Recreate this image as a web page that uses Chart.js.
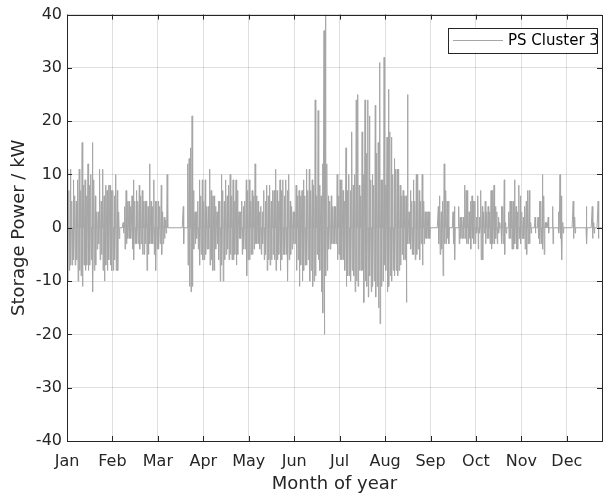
<!DOCTYPE html>
<html>
<head>
<meta charset="utf-8">
<script src="https://cdn.jsdelivr.net/npm/chart.js@4.4.1/dist/chart.umd.min.js"></script>
<style>
  html, body { margin: 0; padding: 0; background: #fff; }
  #wrap { width: 603px; height: 498px; }
</style>
</head>
<body>
<div id="wrap"><canvas id="storageChart" width="603" height="498"></canvas></div>
<script>
const monthLabels = ["Jan", "Feb", "Mar", "Apr", "May", "Jun", "Jul", "Aug", "Sep", "Oct", "Nov", "Dec"];
const monthTickDays = [0, 31, 62, 93, 124, 155, 186, 217, 248, 279, 310, 341];
const yTickValues = [-40, -30, -20, -10, 0, 10, 20, 30, 40];
const seriesLabel = "PS Cluster 3";

// daily peak charge / discharge (kW), one value per day
const dayHigh = [
  11, 7, 11, 5, 9, 6, 5, 9, 11, 7,
  16, 8, 9, 6, 12, 8, 10, 16, 9, 6,
  3, 3, 11, 5, 11, 6, 8, 7, 8, 8,
  7, 7, 6, 10, 7, 3, 0, 0, 1, 4,
  7, 5, 5, 4, 6, 9, 5, 7, 5, 8,
  6, 7, 5, 5, 5, 4, 12, 5, 4, 9,
  5, 5, 5, 4, 8, 3, 2, 1.5, 10, 0,
  0, 0, 0, 0, 0, 0, 0, 0, 0, 4,
  0, 0, 12, 13, 15, 21, 7, 3, 3, 5,
  9, 6, 9, 5, 9, 4, 4, 11, 7, 6,
  6, 4, 3, 5, 5, 10, 7, 5, 9, 6,
  8, 10, 6, 9, 5, 9, 7, 3, 3, 5,
  4, 5, 9, 7, 9, 5, 7, 6, 12, 6,
  5, 3, 4, 3, 7, 5, 8, 6, 8, 5,
  7, 7, 11, 7, 5, 9, 7, 9, 6, 9,
  7, 10, 5, 4, 3, 3, 8, 6, 7, 6,
  7, 9, 6, 11, 7, 11, 7, 9, 8, 24,
  6, 22, 8, 6, 12, 37, 40, 12, 6, 5,
  6, 4, 4, 4, 10, 6, 9, 9, 7, 5,
  15, 7, 10, 7, 18, 8, 10, 24, 25, 8,
  6, 18, 10, 24, 14, 24, 21, 9, 10, 8,
  23, 14, 16, 31, 9, 9, 32, 8, 17, 26,
  18, 17, 10, 13, 11, 11, 11, 8, 6, 7,
  6, 6, 25, 3, 7, 5, 9, 5, 10, 10,
  7, 5, 10, 5, 3, 3, 3, 3, 0, 0,
  0, 0, 0, 4, 6, 3, 5, 12, 7, 5,
  5, 0, 0, 3, 4, 0, 0, 4, 2, 2,
  2, 8, 7, 7, 3, 5, 6, 5, 5, 2,
  6, 2, 7, 4, 3, 5, 3, 4, 3, 7,
  7, 8, 4, 3, 2, 1, 4, 4, 9, 1,
  0, 3, 5, 5, 5, 9, 4, 3, 8, 6,
  3, 2, 4, 5, 7, 7, 1, 0, 0, 2,
  0, 2, 5, 5, 10, 6, 1, 1, 2, 0,
  0, 4, 0, 0, 0, 3, 10, 6, 1, 0,
  0, 0, 0, 0, 0, 5, 2, 0, 0, 0,
  0, 0, 0, 0, 4, 0, 0, 0, 4, 1,
  0, 0, 5, 0, 0
];
const dayLow = [
  -10, -8, -7, -7, -6, -7, -6, -10, -8, -9,
  -11, -7, -8, -7, -8, -7, -6, -12, -8, -7,
  -4, -3, -6, -5, -8, -10, -7, -8, -6, -7,
  -8, -8, -6, -8, -8, -2, 0, 0, -1, -4,
  -3, -2, -2, -2, -4, -6, -3, -3, -3, -4,
  -3, -5, -5, -3, -8, -5, -3, -3, -3, -5,
  -8, -4, -4, -3, -5, -3, -2, -1, 0, 0,
  0, 0, 0, 0, 0, 0, 0, 0, 0, -3,
  0, 0, -7, -11, -12, -11, -4, -3, -2, -4,
  -7, -5, -6, -6, -5, -4, -4, -7, -6, -8,
  -8, -4, -3, -6, -10, -7, -10, -6, -5, -4,
  -6, -5, -6, -6, -5, -7, -5, -2, -2, -5,
  -4, -4, -9, -6, -6, -5, -5, -4, -3, -3,
  -3, -4, -5, -3, -6, -5, -8, -6, -7, -6,
  -5, -6, -8, -6, -5, -8, -6, -5, -5, -5,
  -10, -6, -5, -4, -3, -3, -8, -6, -11, -7,
  -10, -8, -7, -7, -6, -10, -8, -11, -10, -9,
  -5, -6, -8, -12, -16, -20, -9, -8, -4, -4,
  -3, -3, -3, -3, -6, -5, -6, -6, -6, -8,
  -11, -9, -9, -10, -8, -9, -12, -10, -11, -8,
  -8, -8, -14, -10, -11, -13, -9, -12, -11, -10,
  -13, -11, -15, -18, -11, -10, -7, -8, -12, -11,
  -9, -10, -8, -9, -8, -9, -8, -7, -5, -6,
  -6, -14, -3, -3, -4, -5, -5, -6, -5, -4,
  -6, -3, -7, -3, -2, -2, -2, -2, 0, 0,
  0, 0, 0, -3, -5, -4, -9, -3, -3, -2,
  -3, 0, 0, -3, -6, 0, 0, -3, -2, -2,
  -2, -2, -3, -3, -2, -4, -2, -3, -3, -1,
  -4, -1, -6, -6, -1, -3, -2, -2, -3, -4,
  -3, -3, -2, -3, -1, 0, -3, -3, -5, -1,
  0, -2, -2, -4, -4, -3, -4, -4, -2, -3,
  -2, -2, -4, -5, -3, -3, -1, 0, 0, -1,
  0, -2, -3, -3, -4, -5, 0, 0, -1, 0,
  0, -3, 0, 0, 0, -1, -2, -6, -1, 0,
  0, 0, 0, 0, 0, -2, -1, 0, 0, 0,
  0, 0, 0, 0, -3, 0, 0, 0, -2, -1,
  0, 0, -2, 0, 0
];

const axisColor = "#262626";
const gridColor = "rgba(38,38,38,0.15)";
const lineColor = "#a6a6a6";
const fontFamily = "'DejaVu Sans', sans-serif";

// each day: idle, up to its peak, down to its low, idle again
const points = [];
dayHigh.forEach((h, i) => {
  points.push({ x: i + 0.1, y: 0 });
  points.push({ x: i + 0.35, y: h });
  points.push({ x: i + 0.6, y: dayLow[i] });
  points.push({ x: i + 0.85, y: 0 });
});

// box round the plot with inward ticks on all four sides, like matlab
const boxPlugin = {
  id: "boxTicks",
  afterDatasetsDraw(chart) {
    const { ctx, chartArea: a, scales } = chart;
    const len = 5;
    ctx.save();
    ctx.strokeStyle = axisColor;
    ctx.lineWidth = 1;
    ctx.beginPath();
    monthTickDays.forEach(v => {
      const x = Math.round(scales.x.getPixelForValue(v)) + 0.5;
      ctx.moveTo(x, a.bottom); ctx.lineTo(x, a.bottom - len);
      ctx.moveTo(x, a.top); ctx.lineTo(x, a.top + len);
    });
    yTickValues.forEach(v => {
      const y = Math.round(scales.y.getPixelForValue(v)) + 0.5;
      ctx.moveTo(a.left, y); ctx.lineTo(a.left + len, y);
      ctx.moveTo(a.right, y); ctx.lineTo(a.right - len, y);
    });
    ctx.stroke();
    ctx.strokeRect(Math.round(a.left) + 0.5, Math.round(a.top) + 0.5,
      Math.round(a.right - a.left), Math.round(a.bottom - a.top));
    ctx.restore();
  },
  afterDraw(chart) {
    const { ctx, chartArea: a } = chart;
    const bx = a.right - 154, by = a.top + 13, bw = 149, bh = 25;
    ctx.save();
    ctx.fillStyle = "#fff";
    ctx.fillRect(bx, by, bw, bh);
    ctx.strokeStyle = axisColor;
    ctx.lineWidth = 1;
    ctx.strokeRect(Math.round(bx) + 0.5, Math.round(by) + 0.5, bw, bh);
    const my = Math.round(by + bh / 2) + 0.5;
    ctx.strokeStyle = lineColor;
    ctx.beginPath();
    ctx.moveTo(bx + 5, my);
    ctx.lineTo(bx + 55, my);
    ctx.stroke();
    ctx.fillStyle = "#000";
    ctx.font = "15px " + fontFamily;
    ctx.textBaseline = "middle";
    ctx.fillText(seriesLabel, bx + 60, my + 1);
    ctx.restore();
  }
};

const chart = new Chart(document.getElementById("storageChart"), {
  type: "line",
  data: {
    datasets: [{
      label: seriesLabel,
      data: points,
      borderColor: lineColor,
      borderWidth: 1,
      pointRadius: 0,
      tension: 0
    }]
  },
  options: {
    responsive: false,
    animation: false,
    layout: { padding: { top: 13, right: 1, left: 0, bottom: 0 } },
    plugins: {
      legend: { display: false },
      tooltip: { enabled: false }
    },
    scales: {
      x: {
        type: "linear",
        min: 0,
        max: 365,
        afterBuildTicks: s => { s.ticks = monthTickDays.map(v => ({ value: v })); },
        afterFit: s => { s.height = 57; },
        ticks: {
          autoSkip: false,
          maxRotation: 0,
          padding: 11,
          color: axisColor,
          font: { family: fontFamily, size: 16 },
          callback: (v, i) => monthLabels[i]
        },
        grid: { color: gridColor, drawTicks: false },
        border: { display: false },
        title: {
          display: true,
          text: "Month of year",
          color: axisColor,
          font: { family: fontFamily, size: 18 },
          padding: { top: 0, bottom: 3 }
        }
      },
      y: {
        min: -40,
        max: 40,
        afterBuildTicks: s => { s.ticks = yTickValues.map(v => ({ value: v })); },
        afterFit: s => { s.width = 67; },
        ticks: {
          padding: 5,
          color: axisColor,
          font: { family: fontFamily, size: 16 }
        },
        grid: { color: gridColor, drawTicks: false },
        border: { display: false },
        title: {
          display: true,
          text: "Storage Power / kW",
          color: axisColor,
          font: { family: fontFamily, size: 18 },
          padding: { top: 9, bottom: 0 }
        }
      }
    }
  },
  plugins: [boxPlugin]
});
</script>
</body>
</html>
